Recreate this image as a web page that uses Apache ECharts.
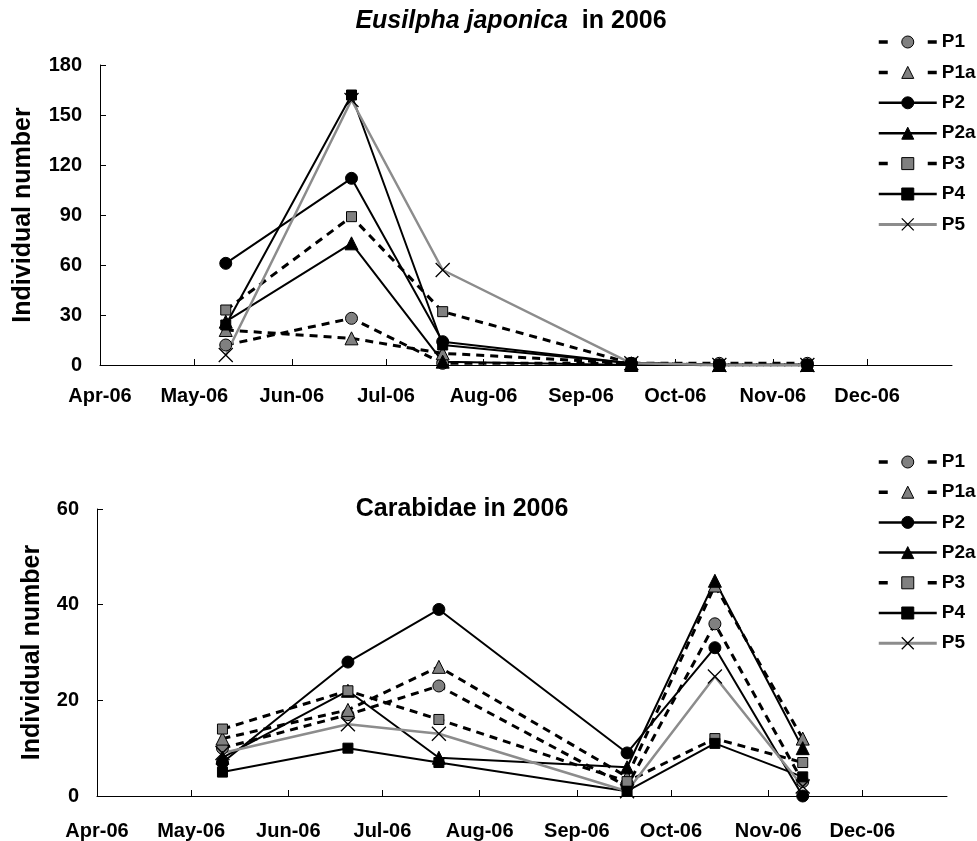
<!DOCTYPE html>
<html>
<head>
<meta charset="utf-8">
<script src="https://cdn.jsdelivr.net/npm/echarts@6/dist/echarts.min.js"></script>
<style>
html,body{margin:0;padding:0;background:#fff;}
#chart{width:977px;height:841px;}
</style>
</head>
<body>
<div id="chart"></div>
<script>
// ---------- data ----------
const sampleDates = ['2006-05-11', '2006-06-20', '2006-07-19', '2006-09-17', '2006-10-15', '2006-11-12'];
const monthTickDates = ['2006-04-01', '2006-05-01', '2006-06-01', '2006-07-01', '2006-08-01', '2006-09-01', '2006-10-01', '2006-11-01', '2006-12-01'];
const monthTickLabels = ['Apr-06', 'May-06', 'Jun-06', 'Jul-06', 'Aug-06', 'Sep-06', 'Oct-06', 'Nov-06', 'Dec-06'];
const axisStartDate = '2006-04-01';
const axisEndDate = '2006-12-28';
const seriesNames = ['P1', 'P1a', 'P2', 'P2a', 'P3', 'P4', 'P5'];

// Eusilpha japonica in 2006
const eusP1  = [12, 28, 1, 1, 1, 1];
const eusP1a = [21, 16, 7, 1, 0, 0];
const eusP2  = [61, 112, 14, 1, 0, 0];
const eusP2a = [26, 73, 2, 0, 0, 0];
const eusP3  = [33, 89, 32, 1, 0, 0];
const eusP4  = [24, 162, 12, 1, 0, 0];
const eusP5  = [6, 159, 57, 1, 0, 0];

// Carabidae in 2006
const carP1  = [10, 17, 23, 2, 36, 3];
const carP1a = [12, 18, 27, 4, 44, 12];
const carP2  = [7, 28, 39, 9, 31, 0];
const carP2a = [8, 22, 8, 6, 45, 10];
const carP3  = [14, 22, 16, 3, 12, 7];
const carP4  = [5, 10, 7, 1, 11, 4];
const carP5  = [9, 15, 13, 1, 25, 2];

const eusValues = [eusP1, eusP1a, eusP2, eusP2a, eusP3, eusP4, eusP5];
const carValues = [carP1, carP1a, carP2, carP2a, carP3, carP4, carP5];

// ---------- helpers ----------
// dates are turned into day numbers counted from the axis start (value axis)
function toDay(s) {
  const p = s.split('-').map(Number);
  const a = axisStartDate.split('-').map(Number);
  return Math.round((Date.UTC(p[0], p[1] - 1, p[2]) - Date.UTC(a[0], a[1] - 1, a[2])) / 86400000);
}
const monthTickDays = monthTickDates.map(toDay);
function monthLabel(v) {
  const i = monthTickDays.indexOf(Math.round(v));
  return i >= 0 ? monthTickLabels[i] : '';
}

const FONT = "'Liberation Sans', Arial, sans-serif";
const GRAY = '#808080';
const X_PATH = 'path://M0,0L10,10M10,0L0,10';
const DASH = [8, 6];

const styles = {
  P1:  { symbol: 'circle',   size: 12, fill: GRAY,   line: { color: '#000', width: 3, type: DASH } },
  P1a: { symbol: 'triangle', size: 13, fill: GRAY,   line: { color: '#000', width: 3, type: DASH } },
  P2:  { symbol: 'circle',   size: 12, fill: '#000', line: { color: '#000', width: 2, type: 'solid' } },
  P2a: { symbol: 'triangle', size: 13, fill: '#000', line: { color: '#000', width: 2, type: 'solid' } },
  P3:  { symbol: 'rect',     size: 10, fill: GRAY,   line: { color: '#000', width: 3, type: DASH } },
  P4:  { symbol: 'rect',     size: 10, fill: '#000', line: { color: '#000', width: 2, type: 'solid' } },
  P5:  { symbol: X_PATH,     size: 14, fill: '#000', line: { color: '#8c8c8c', width: 2.5, type: 'solid' }, border: 1.3 }
};

function makeSeries(values, gridIdx) {
  return seriesNames.map((name, i) => {
    const st = styles[name];
    return {
      name: name,
      type: 'line',
      xAxisIndex: gridIdx,
      yAxisIndex: gridIdx,
      data: sampleDates.map((d, j) => [toDay(d), values[i][j]]),
      symbol: st.symbol,
      symbolSize: st.size,
      showAllSymbol: true,
      lineStyle: st.line,
      itemStyle: { color: st.fill, borderColor: '#000', borderWidth: st.border || 1 },
      emphasis: { disabled: true },
      animation: false
    };
  });
}

const legendData = seriesNames.map(n => {
  const st = styles[n];
  const dashed = Array.isArray(st.line.type);
  return {
    name: n,
    lineStyle: {
      color: st.line.color,
      width: dashed ? 3.5 : st.line.width + 0.5,
      type: dashed ? [9, 40] : 'solid'
    },
    itemStyle: { borderWidth: st.border || 1 }
  };
});

function makeLegend(top, gap) {
  return {
    orient: 'vertical',
    left: 877,
    top: top,
    padding: 0,
    itemWidth: 58,
    itemHeight: 15,
    itemGap: gap,
    selectedMode: false,
    itemStyle: { borderWidth: 1 },
    textStyle: { fontSize: 19, fontWeight: 'bold', color: '#000', fontFamily: FONT, lineHeight: 20 },
    data: legendData
  };
}

function makeXAxis(gridIdx, margin) {
  return {
    type: 'value',
    gridIndex: gridIdx,
    min: 0,
    max: toDay(axisEndDate),
    axisLine: { show: true, onZero: false, lineStyle: { color: '#000', width: 1 } },
    axisTick: { show: true, inside: true, length: 6, customValues: monthTickDays, lineStyle: { color: '#000' } },
    axisLabel: {
      customValues: monthTickDays,
      formatter: monthLabel,
      fontSize: 20, fontWeight: 'bold', color: '#000', fontFamily: FONT, margin: margin
    },
    splitLine: { show: false }
  };
}

function makeYAxis(gridIdx, max, interval, nameGap) {
  return {
    type: 'value',
    gridIndex: gridIdx,
    min: 0,
    max: max,
    interval: interval,
    name: 'Individual number',
    nameLocation: 'middle',
    nameGap: nameGap,
    nameTextStyle: { fontSize: 25, fontWeight: 'bold', color: '#000', fontFamily: FONT },
    axisLine: { show: true, onZero: false, lineStyle: { color: '#000', width: 1 } },
    axisTick: { show: true, inside: true, length: 6, lineStyle: { color: '#000' } },
    axisLabel: { fontSize: 20, fontWeight: 'bold', color: '#000', fontFamily: FONT, margin: 18 },
    splitLine: { show: false }
  };
}

const chart = echarts.init(document.getElementById('chart'), null, { renderer: 'canvas' });
chart.setOption({
  backgroundColor: '#fff',
  animation: false,
  title: [
    {
      text: '{i|Eusilpha japonica}  in 2006',
      left: 511, top: 9, textAlign: 'center', padding: 0,
      textStyle: {
        fontSize: 25, fontWeight: 'bold', color: '#000', fontFamily: FONT,
        rich: { i: { fontSize: 25, fontWeight: 'bold', fontStyle: 'italic', color: '#000', fontFamily: FONT } }
      }
    },
    {
      text: 'Carabidae in 2006',
      left: 462, top: 497, textAlign: 'center', padding: 0,
      textStyle: { fontSize: 25, fontWeight: 'bold', color: '#000', fontFamily: FONT }
    }
  ],
  legend: [makeLegend(32, 10.4), makeLegend(452, 10.2)],
  grid: [
    { left: 100, right: 25, top: 65, height: 300 },
    { left: 97, right: 30, top: 509, height: 288 }
  ],
  xAxis: [makeXAxis(0, 21), makeXAxis(1, 25)],
  yAxis: [makeYAxis(0, 180, 30, 64), makeYAxis(1, 60, 20, 52)],
  series: makeSeries(eusValues, 0).concat(makeSeries(carValues, 1))
});
</script>
</body>
</html>
